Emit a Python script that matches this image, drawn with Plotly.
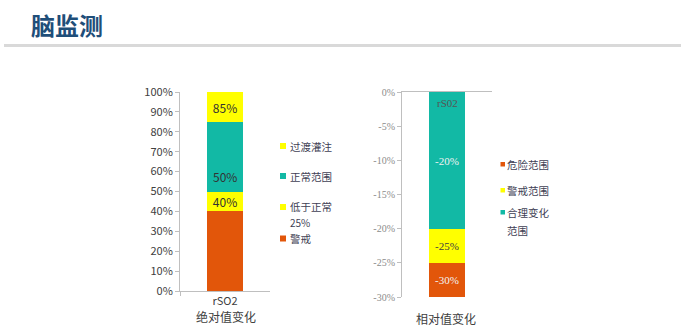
import plotly.graph_objects as go

W, H = 688, 334
def X(p): return p / W
def Y(p): return 1 - p / H

# ---------------- data ----------------
title_text = "脑监测"

abs_category = ["rSO2"]
abs_names = ["警戒", "低于正常", "正常范围", "过渡灌注"]
abs_values = [40, 10, 35, 15]
abs_labels = ["", "40%", "50%", "85%"]
abs_title = "绝对值变化"
abs_ticks = [0, 10, 20, 30, 40, 50, 60, 70, 80, 90, 100]
abs_ticktext = ["0%", "10%", "20%", "30%", "40%", "50%", "60%", "70%", "80%", "90%", "100%"]
abs_legend = ["过渡灌注", "正常范围", "低于正常", "25%", "警戒"]

rel_category = ["rS02"]
rel_names = ["合理变化范围", "警戒范围", "危险范围"]
rel_values = [-20, -5, -5]
rel_labels = ["-20%", "-25%", "-30%"]
rel_title = "相对值变化"
rel_ticks = [0, -5, -10, -15, -20, -25, -30]
rel_ticktext = ["0%", "-5%", "-10%", "-15%", "-20%", "-25%", "-30%"]
rel_legend = ["危险范围", "警戒范围", "合理变化", "范围"]

# ---------------- styles ----------------
ORANGE = "#E2560A"
YELLOW = "#FFFF00"
TEAL = "#12B9A5"
abs_colors = [ORANGE, YELLOW, TEAL, YELLOW]
rel_colors = [TEAL, YELLOW, ORANGE]
rel_textcolors = ["#F2F2F2", "#404040", "#F2F2F2"]
abs_legend_colors = [YELLOW, TEAL, YELLOW, None, ORANGE]
rel_legend_colors = [ORANGE, YELLOW, TEAL, None]

CJK = "Noto Sans CJK SC"
AXIS_GRAY = "#BFBFBF"

fig = go.Figure()

for n, v, lab, c in zip(abs_names, abs_values, abs_labels, abs_colors):
    fig.add_trace(go.Bar(
        x=abs_category, y=[v], name=n, marker=dict(color=c, line=dict(width=0)),
        width=0.4, text=[lab],
        textposition="none" if n == "正常范围" or lab == "" else "inside",
        insidetextanchor="middle", constraintext="none",
        textfont=dict(family=CJK, size=12, color="#333333"),
        xaxis="x", yaxis="y", showlegend=False, hoverinfo="skip",
    ))

for n, v, lab, c, tc in zip(rel_names, rel_values, rel_labels, rel_colors, rel_textcolors):
    fig.add_trace(go.Bar(
        x=rel_category, y=[v], name=n, marker=dict(color=c, line=dict(width=0)),
        width=0.4, text=[lab], textposition="inside", insidetextanchor="middle",
        constraintext="none",
        textfont=dict(family="Liberation Serif", size=11, color=tc),
        xaxis="x2", yaxis="y2", showlegend=False, hoverinfo="skip",
    ))

annotations = []
shapes = []

# title
annotations.append(dict(text="<b>" + title_text + "</b>", xref="paper", yref="paper",
                        x=X(29), y=Y(25), xanchor="left", yanchor="middle", showarrow=False,
                        font=dict(family=CJK, size=24, color="#1F4E79")))
shapes.append(dict(type="line", xref="paper", yref="paper", x0=X(4), x1=X(681),
                   y0=Y(45.5), y1=Y(45.5), line=dict(color="#D9D9D9", width=3)))

# teal segment label (sits low in the segment, as in the reference)
annotations.append(dict(text=abs_labels[2], x=abs_category[0], y=57.5, xref="x", yref="y",
                        showarrow=False, font=dict(family=CJK, size=12, color="#333333")))

# category label of the relative chart, just under the top axis line
annotations.append(dict(text=rel_category[0], x=rel_category[0], y=0, xref="x2", yref="y2",
                        yanchor="top", yshift=-3, showarrow=False,
                        font=dict(family="Liberation Serif", size=11, color="#555555")))

# chart subtitles
annotations.append(dict(text=abs_title, xref="paper", yref="paper", x=X(226), y=Y(316),
                        xanchor="center", yanchor="middle", showarrow=False,
                        font=dict(family=CJK, size=12, color="#404040")))
annotations.append(dict(text=rel_title, xref="paper", yref="paper", x=X(446), y=Y(318),
                        xanchor="center", yanchor="middle", showarrow=False,
                        font=dict(family=CJK, size=12, color="#404040")))

# left legend
abs_leg_y = [146, 176, 207, 222.5, 238.5]
abs_leg_size = [10.5, 10.5, 10.5, 10, 10.5]
for name, col, py, fs in zip(abs_legend, abs_legend_colors, abs_leg_y, abs_leg_size):
    if col:
        shapes.append(dict(type="rect", xref="paper", yref="paper", x0=X(280), x1=X(286),
                           y0=Y(py + 3), y1=Y(py - 3), fillcolor=col, line=dict(width=0)))
    annotations.append(dict(text=name, xref="paper", yref="paper", x=X(289), y=Y(py),
                            xanchor="left", yanchor="middle", showarrow=False, borderpad=0,
                            font=dict(family=CJK, size=fs, color="#3F3F55")))

# right legend
rel_leg_y = [164, 190, 212, 230]
for name, col, py in zip(rel_legend, rel_legend_colors, rel_leg_y):
    if col:
        shapes.append(dict(type="rect", xref="paper", yref="paper", x0=X(500.5), x1=X(505),
                           y0=Y(py + 2.5), y1=Y(py - 2), fillcolor=col, line=dict(width=0)))
    annotations.append(dict(text=name, xref="paper", yref="paper", x=X(506), y=Y(py),
                            xanchor="left", yanchor="middle", showarrow=False, borderpad=0,
                            font=dict(family=CJK, size=10.5, color="#3F3F55")))

fig.update_layout(
    width=W, height=H, margin=dict(l=0, r=0, t=0, b=0, pad=0, autoexpand=False),
    paper_bgcolor="white", plot_bgcolor="white",
    barmode="relative", bargap=0,
    xaxis=dict(domain=[X(180), X(270)], anchor="y", range=[-0.5, 0.5], type="category",
               automargin=False, tickson="boundaries", ticks="outside", ticklen=4,
               tickcolor=AXIS_GRAY,
               showline=True, linecolor=AXIS_GRAY, linewidth=1, showgrid=False,
               tickfont=dict(family=CJK, size=11, color="#404040")),
    yaxis=dict(domain=[Y(291), Y(92)], anchor="x", range=[0, 100], tickvals=abs_ticks,
               automargin=False,
               ticktext=abs_ticktext, ticks="outside", ticklen=4, tickcolor=AXIS_GRAY,
               showline=True, linecolor=AXIS_GRAY, linewidth=1, showgrid=False, zeroline=False,
               tickfont=dict(family=CJK, size=11, color="#404040")),
    xaxis2=dict(domain=[X(402), X(492)], anchor="y2", range=[-0.5, 0.5], type="category",
                automargin=False, tickson="boundaries", ticks="inside", ticklen=4,
                tickcolor=AXIS_GRAY,
                side="top", showticklabels=False, showline=True, linecolor=AXIS_GRAY,
                linewidth=1, showgrid=False),
    yaxis2=dict(domain=[Y(297), Y(92)], anchor="x2", range=[-30, 0], tickvals=rel_ticks,
                automargin=False,
                ticktext=rel_ticktext, ticks="outside", ticklen=4, tickcolor=AXIS_GRAY,
                showline=True, linecolor=AXIS_GRAY, linewidth=1, showgrid=False, zeroline=False,
                tickfont=dict(family="Liberation Serif", size=10, color="#8C8C8C")),
    annotations=annotations, shapes=shapes,
)

fig.write_html("out.html")
